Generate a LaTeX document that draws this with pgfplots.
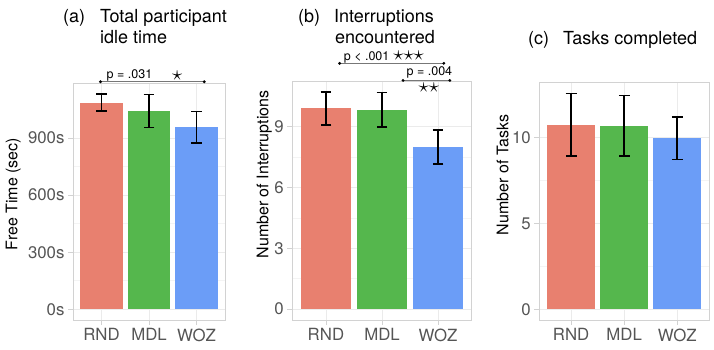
\documentclass[border=0pt]{standalone}
\usepackage{fontspec}
\setmainfont{TeX Gyre Heros}
\usepackage{pgfplots}
\pgfplotsset{compat=1.18}
\definecolor{rnd}{HTML}{E8806F}
\definecolor{mdl}{HTML}{55B74D}
\definecolor{woz}{HTML}{6B9DF7}
\definecolor{framegray}{HTML}{D2D2D2}
\definecolor{gridmaj}{HTML}{EBEBEB}
\definecolor{gridmin}{HTML}{F4F4F4}
\definecolor{ticklab}{HTML}{555555}
\definecolor{siggray}{HTML}{777777}
\newcommand\titlefont{\fontsize{18}{21}\selectfont}
\newcommand\labfont{\fontsize{16}{18}\selectfont}
\newcommand\tickfont{\fontsize{16.8}{18}\selectfont}
\newcommand\sigfont{\fontsize{12.5}{14}\selectfont}
\newcommand\starfont{\fontsize{20.5}{20.5}\selectfont}

\tikzset{
  sigline/.style={draw=siggray, line width=1.3pt},
  sigdot/.style={fill=black, circle, inner sep=0pt, minimum size=3.2pt},
}
\pgfplotsset{
  panel/.style={
    scale only axis, anchor=south west, clip=false,
    xmin=0.4, xmax=3.6,
    xtick={1,2,3}, xticklabels={RND,MDL,WOZ},
    ybar, bar width=0.9,
    axis line style={draw=framegray, line width=0.8pt},
    xmajorgrids, ymajorgrids, yminorgrids,
    major grid style={draw=gridmaj, line width=0.8pt},
    minor grid style={draw=gridmin, line width=0.5pt},
    minor y tick num=1,
    tick align=outside, xtick pos=bottom, ytick pos=left,
    major tick length=5pt, minor tick length=0pt,
    tick style={draw=framegray, line width=0.8pt},
    /pgf/number format/assume math mode=true,
    ticklabel style={font=\tickfont, text=ticklab},
    error bars/y dir=both, error bars/y explicit,
    error bars/error bar style={draw=black, line width=1.8pt},
    error bars/error mark=|,
    error bars/error mark options={draw=black, line width=1.8pt, mark size=5.4pt},
  },
}

\begin{document}
\begin{tikzpicture}
\useasboundingbox (0,0) rectangle (714pt,350pt);

% (a) idle time
\begin{axis}[panel, at={(73pt,30pt)}, width=152pt, height=237pt,
  ymin=-56.6, ymax=1189.6,
  ytick={0,300,600,900}, yticklabels={0s,300s,600s,900s}]
\addplot[fill=rnd, draw=none, bar shift=0pt] coordinates {(1,1086) += (0,47) -= (0,44)};
\addplot[fill=mdl, draw=none, bar shift=0pt] coordinates {(2,1042) += (0,87) -= (0,86)};
\addplot[fill=woz, draw=none, bar shift=0pt] coordinates {(3,956) += (0,84) -= (0,82)};
\draw[sigline] (axis cs:0.979,1196) -- (axis cs:3.163,1196);
\node[sigdot] at (axis cs:0.979,1196) {};
\node[sigdot] at (axis cs:3.163,1196) {};
\node[anchor=base west, font=\sigfont, inner sep=0pt] at (axis cs:1.106,1215) {p = .031};
\node[font=\starfont, inner sep=0pt] at (axis cs:2.596,1229) {$\star$};
\end{axis}

% (b) interruptions
\begin{axis}[panel, at={(292.3pt,30pt)}, width=179.4pt, height=239pt,
  ymin=-0.535, ymax=11.25,
  ytick={0,3,6,9}]
\addplot[fill=rnd, draw=none, bar shift=0pt] coordinates {(1,9.92) += (0,0.79) -= (0,0.83)};
\addplot[fill=mdl, draw=none, bar shift=0pt] coordinates {(2,9.84) += (0,0.84) -= (0,0.84)};
\addplot[fill=woz, draw=none, bar shift=0pt] coordinates {(3,7.99) += (0,0.84) -= (0,0.84)};
\draw[sigline] (axis cs:1.245,12.12) -- (axis cs:3.102,12.12);
\node[sigdot] at (axis cs:1.245,12.12) {};
\node[sigdot] at (axis cs:3.102,12.12) {};
\node[anchor=base west, font=\sigfont, inner sep=0pt] at (axis cs:1.316,12.24) {p < .001\hspace{4pt}{\starfont${\star}{\star}{\star}$}};
\draw[sigline] (axis cs:2.375,11.28) -- (axis cs:3.209,11.28);
\node[sigdot] at (axis cs:2.375,11.28) {};
\node[sigdot] at (axis cs:3.209,11.28) {};
\node[anchor=base west, font=\sigfont, inner sep=0pt] at (axis cs:2.436,11.50) {p = .004};
\node[font=\starfont, inner sep=0pt] at (axis cs:2.834,10.90) {${\star}{\star}$};
\end{axis}

% (c) tasks
\begin{axis}[panel, at={(539.3pt,30pt)}, width=169.7pt, height=237.3pt,
  ymin=-0.63, ymax=13.22,
  ytick={0,5,10}]
\addplot[fill=rnd, draw=none, bar shift=0pt] coordinates {(1,10.75) += (0,1.84) -= (0,1.79)};
\addplot[fill=mdl, draw=none, bar shift=0pt] coordinates {(2,10.69) += (0,1.78) -= (0,1.73)};
\addplot[fill=woz, draw=none, bar shift=0pt] coordinates {(3,9.99) += (0,1.24) -= (0,1.25)};
\end{axis}

% titles
\node[anchor=base west, font=\titlefont, inner sep=0pt] at (63pt,327pt) {(a)};
\node[anchor=base west, font=\titlefont, inner sep=0pt] at (100pt,327pt) {Total participant};
\node[anchor=base west, font=\titlefont, inner sep=0pt] at (100pt,306pt) {idle time};
\node[anchor=base west, font=\titlefont, inner sep=0pt] at (298pt,327pt) {(b)};
\node[anchor=base west, font=\titlefont, inner sep=0pt] at (334pt,327pt) {Interruptions};
\node[anchor=base west, font=\titlefont, inner sep=0pt] at (335pt,306pt) {encountered};
\node[anchor=base west, font=\titlefont, inner sep=0pt] at (528pt,305pt) {(c)};
\node[anchor=base west, font=\titlefont, inner sep=0pt] at (563pt,305pt) {Tasks completed};

% y labels
\node[rotate=90, anchor=base, font=\labfont, inner sep=0pt] at (17.3pt,156pt) {Free Time (sec)};
\node[rotate=90, anchor=base, font=\labfont, inner sep=0pt] at (268.3pt,175.5pt) {Number of Interruptions};
\node[rotate=90, anchor=base, font=\labfont, inner sep=0pt] at (508.3pt,175pt) {Number of Tasks};
\end{tikzpicture}
\end{document}
